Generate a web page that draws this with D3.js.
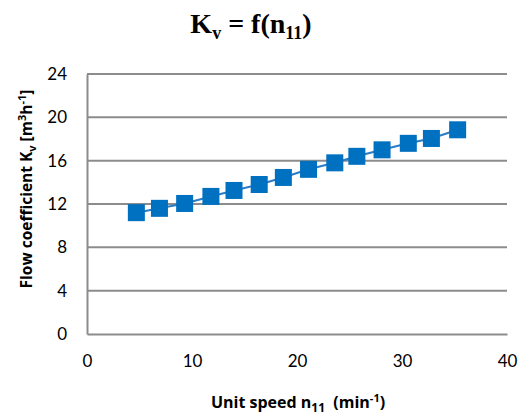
<!DOCTYPE html>
<html>
<head>
<meta charset="utf-8">
<script src="https://cdn.jsdelivr.net/npm/d3@7"></script>
<style>
  body { margin: 0; background: #fff; }
  text { font-family: Lato, "Open Sans", sans-serif; }
</style>
</head>
<body>
<svg id="chart" width="527" height="419"></svg>
<script>
// values
const unitSpeed = [4.7, 6.9, 9.3, 11.8, 14.0, 16.4, 18.7, 21.1, 23.6, 25.7, 28.1, 30.6, 32.8, 35.3];
const flowCoef = [11.2, 11.6, 12.05, 12.7, 13.25, 13.8, 14.45, 15.2, 15.8, 16.4, 17.0, 17.6, 18.05, 18.85];
const xTicks = [0, 10, 20, 30, 40];
const yTicks = [0, 4, 8, 12, 16, 20, 24];

const svg = d3.select("#chart");
const margin = { top: 74, right: 20, bottom: 85, left: 87 };
const width = 527 - margin.left - margin.right;
const height = 419 - margin.top - margin.bottom;

const g = svg.append("g")
    .attr("transform", "translate(" + margin.left + "," + margin.top + ")");

const xScale = d3.scaleLinear().domain([0, 40]).range([0, width]);
const yScale = d3.scaleLinear().domain([0, 24]).range([height, 0]);

// gridlines
g.selectAll(".grid")
    .data(yTicks.filter(d => d > 0))
    .enter().append("line")
    .attr("x1", 0).attr("x2", width)
    .attr("y1", d => yScale(d)).attr("y2", d => yScale(d))
    .attr("stroke", "#8c8c8c")
    .attr("stroke-width", 2);

// axes
const yAxis = g.append("g")
    .call(d3.axisLeft(yScale).tickValues(yTicks).tickSize(0).tickPadding(20));
const xAxis = g.append("g")
    .attr("transform", "translate(0," + height + ")")
    .call(d3.axisBottom(xScale).tickValues(xTicks).tickSize(0).tickPadding(21));

[xAxis, yAxis].forEach(a => {
    a.select(".domain").attr("stroke", "#8c8c8c").attr("stroke-width", 2);
    a.selectAll("text")
        .style("font-size", "17px")
        .style("font-family", "Lato, 'Open Sans', sans-serif")
        .attr("fill", "#000");
});

// series line
const line = d3.line()
    .x((d, i) => xScale(unitSpeed[i]))
    .y(d => yScale(d));

g.append("path")
    .datum(flowCoef)
    .attr("d", line)
    .attr("fill", "none")
    .attr("stroke", "#2a7cc7")
    .attr("stroke-width", 2);

// square markers
const ms = 17;
g.selectAll(".pt")
    .data(flowCoef)
    .enter().append("rect")
    .attr("x", (d, i) => xScale(unitSpeed[i]) - ms / 2)
    .attr("y", d => yScale(d) - ms / 2)
    .attr("width", ms)
    .attr("height", ms)
    .attr("fill", "#0070c0");

// title
const title = svg.append("text")
    .attr("x", 251)
    .attr("y", 33)
    .attr("text-anchor", "middle")
    .style("font-family", "'Liberation Serif', 'Times New Roman', serif")
    .style("font-weight", "bold")
    .style("font-size", "28px");
title.append("tspan").text("K");
title.append("tspan").attr("dy", 6).style("font-size", "18px").text("v");
title.append("tspan").attr("dy", -6).text(" = f(n");
title.append("tspan").attr("dy", 6).style("font-size", "18px").text("11");
title.append("tspan").attr("dy", -6).text(")");

// x axis title
const xt = svg.append("text")
    .attr("x", 298)
    .attr("y", 408)
    .attr("text-anchor", "middle")
    .style("font-family", "'Open Sans', sans-serif")
    .style("font-weight", "bold")
    .style("font-size", "16px");
xt.append("tspan").text("Unit speed n");
xt.append("tspan").attr("dy", 4).style("font-size", "12px").text("11");
xt.append("tspan").attr("dy", -4).text("\u00a0\u00a0(min");
xt.append("tspan").attr("dy", -6).style("font-size", "11px").text("-1");
xt.append("tspan").attr("dy", 6).text(")");

// y axis title
const yt = svg.append("text")
    .attr("transform", "translate(32,189) rotate(-90)")
    .attr("text-anchor", "middle")
    .style("font-family", "'Open Sans', sans-serif")
    .style("font-weight", "bold")
    .style("font-size", "15.5px");
yt.append("tspan").text("Flow coefficient K");
yt.append("tspan").attr("dy", 4).style("font-size", "11px").text("v");
yt.append("tspan").attr("dy", -4).text("\u00a0[m");
yt.append("tspan").attr("dy", -6).style("font-size", "11px").text("3");
yt.append("tspan").attr("dy", 6).text("h");
yt.append("tspan").attr("dy", -6).style("font-size", "11px").text("-1");
yt.append("tspan").attr("dy", 6).text("]");
</script>
</body>
</html>
